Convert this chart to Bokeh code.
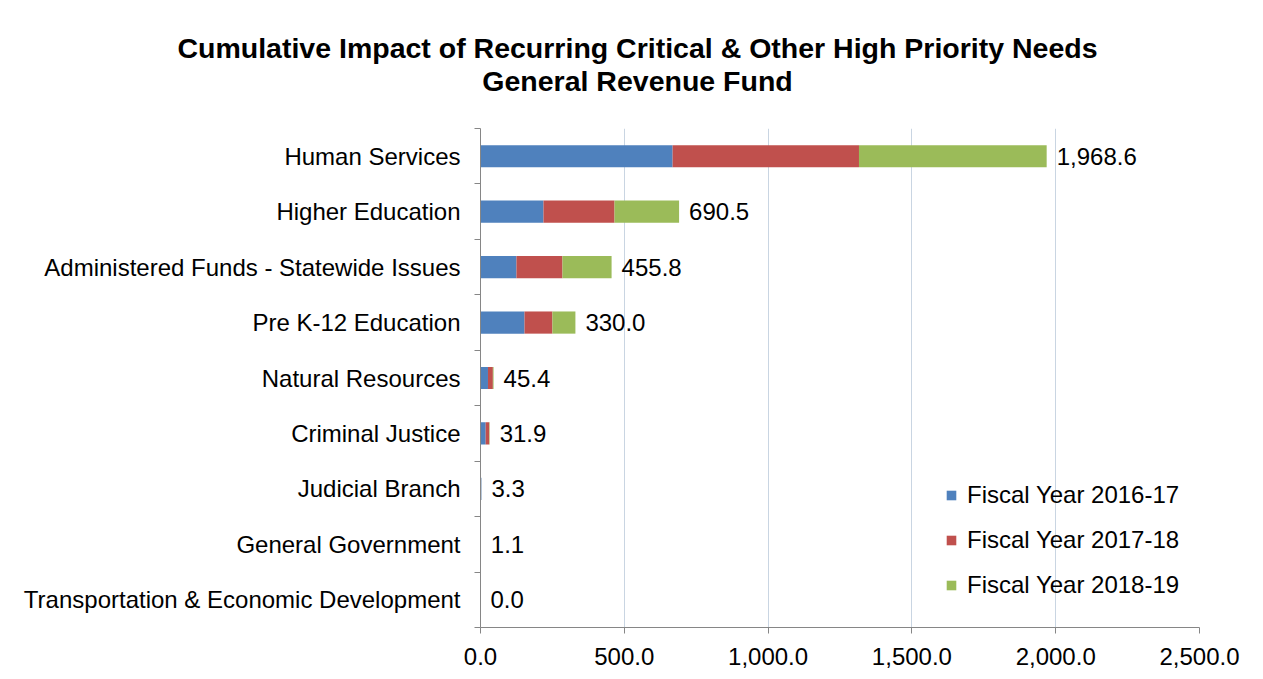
from bokeh.plotting import figure
from bokeh.layouts import column
from bokeh.models import (ColumnDataSource, FixedTicker, NumeralTickFormatter, Range1d,
                          Legend, LegendItem)
from bokeh.core.properties import value
from bokeh.embed import file_html
from bokeh.resources import INLINE

categories = ["Human Services", "Higher Education", "Administered Funds - Statewide Issues",
              "Pre K-12 Education", "Natural Resources", "Criminal Justice",
              "Judicial Branch", "General Government", "Transportation & Economic Development"]
fy1617 = [668.0, 219.0, 125.0, 153.0, 26.0, 18.0, 3.1, 0.2, 0.0]
fy1718 = [648.0, 247.0, 160.0, 97.0, 17.0, 12.5, 0.1, 0.2, 0.0]
fy1819 = [652.6, 224.5, 170.8, 80.0, 2.4, 1.4, 0.1, 0.7, 0.0]
series_names = ["Fiscal Year 2016-17", "Fiscal Year 2017-18", "Fiscal Year 2018-19"]
colors = ["#4f81bd", "#c0504d", "#9bbb59"]
x_ticks = [0, 500, 1000, 1500, 2000, 2500]
title_lines = ["Cumulative Impact of Recurring Critical & Other High Priority Needs",
               "General Revenue Fund"]

FONT = "Liberation Sans"
W, H = 1263, 679
TITLE_H = 128
LEFT, RIGHT, BOTTOM = 480, 64, 52
ypos = list(range(len(categories)))
totals = [round(a + b + c, 1) for a, b, c in zip(fy1617, fy1718, fy1819)]
labels = ["{:,.1f}".format(t) for t in totals]

# ---- title strip (its own small figure, pixel-scaled ranges) ----
tf = figure(width=W, height=TITLE_H, output_backend="svg", toolbar_location=None,
            x_range=Range1d(0, W), y_range=Range1d(TITLE_H, 0),
            x_axis_location=None, y_axis_location=None, min_border=0)
tf.frame_align = False
tf.grid.visible = False
tf.outline_line_color = None
tf.border_fill_color = "white"
tsrc = ColumnDataSource(dict(x=[637, 637], y=[47, 80], t=title_lines))
tf.text(x="x", y="y", text="t", source=tsrc, text_align="center", text_baseline="middle",
        text_font=value(FONT), text_font_style="bold", text_font_size="28.5px",
        text_color="#000000")

# ---- main chart ----
src = ColumnDataSource(dict(y=ypos, s1=fy1617, s2=fy1718, s3=fy1819,
                            total=totals, label=labels))

p = figure(width=W, height=H - TITLE_H, output_backend="svg", toolbar_location=None,
           x_range=Range1d(0, 2500), y_range=Range1d(len(categories) - 0.5, -0.5),
           min_border_left=LEFT, min_border_right=RIGHT, min_border_top=0,
           min_border_bottom=BOTTOM)
p.frame_align = False
p.outline_line_color = None
p.background_fill_color = "white"
p.border_fill_color = "white"

rs = p.hbar_stack(["s1", "s2", "s3"], y="y", height=0.4, color=colors, source=src,
                  line_color=None)

p.text(x="total", y="y", text="label", source=src, x_offset=10,
       text_baseline="middle", text_align="left", text_font_size="24px",
       text_font=value(FONT), text_color="#000000")

p.xaxis.ticker = FixedTicker(ticks=x_ticks)
p.xaxis.formatter = NumeralTickFormatter(format="0,0.0")
p.xaxis.major_label_text_font = FONT
p.xaxis.major_label_text_font_size = "24px"
p.xaxis.major_label_text_color = "#000000"
p.xaxis.major_tick_out = 6
p.xaxis.major_tick_in = 0
p.xaxis.minor_tick_out = 0
p.xaxis.major_label_standoff = 14
p.xaxis.axis_line_color = "#868686"
p.xaxis.major_tick_line_color = "#868686"

p.yaxis.ticker = FixedTicker(ticks=ypos, minor_ticks=[i - 0.5 for i in range(len(categories) + 1)])
p.yaxis.major_label_overrides = {i: c for i, c in zip(ypos, categories)}
p.yaxis.major_label_text_font = FONT
p.yaxis.major_label_text_font_size = "24px"
p.yaxis.major_label_text_color = "#000000"
p.yaxis.major_tick_out = 0
p.yaxis.major_tick_in = 0
p.yaxis.minor_tick_out = 6
p.yaxis.minor_tick_in = 0
p.yaxis.minor_tick_line_color = "#868686"
p.yaxis.major_label_standoff = 14
p.yaxis.axis_line_color = "#868686"

p.ygrid.visible = False
p.xgrid.grid_line_color = "#c9d5e2"
p.xgrid.ticker = FixedTicker(ticks=x_ticks)

legend = Legend(items=[LegendItem(label=n, renderers=[r]) for n, r in zip(series_names, rs)],
                location=(465, 28), orientation="vertical", padding=0, margin=0,
                border_line_color=None, background_fill_alpha=0,
                glyph_width=12, glyph_height=12, label_standoff=10,
                label_height=24, spacing=17,
                label_text_font=FONT, label_text_font_size="24px",
                label_text_color="#000000")
p.add_layout(legend, "center")

layout = column(tf, p, spacing=0)
open("out.html", "w").write(file_html(layout, INLINE))
